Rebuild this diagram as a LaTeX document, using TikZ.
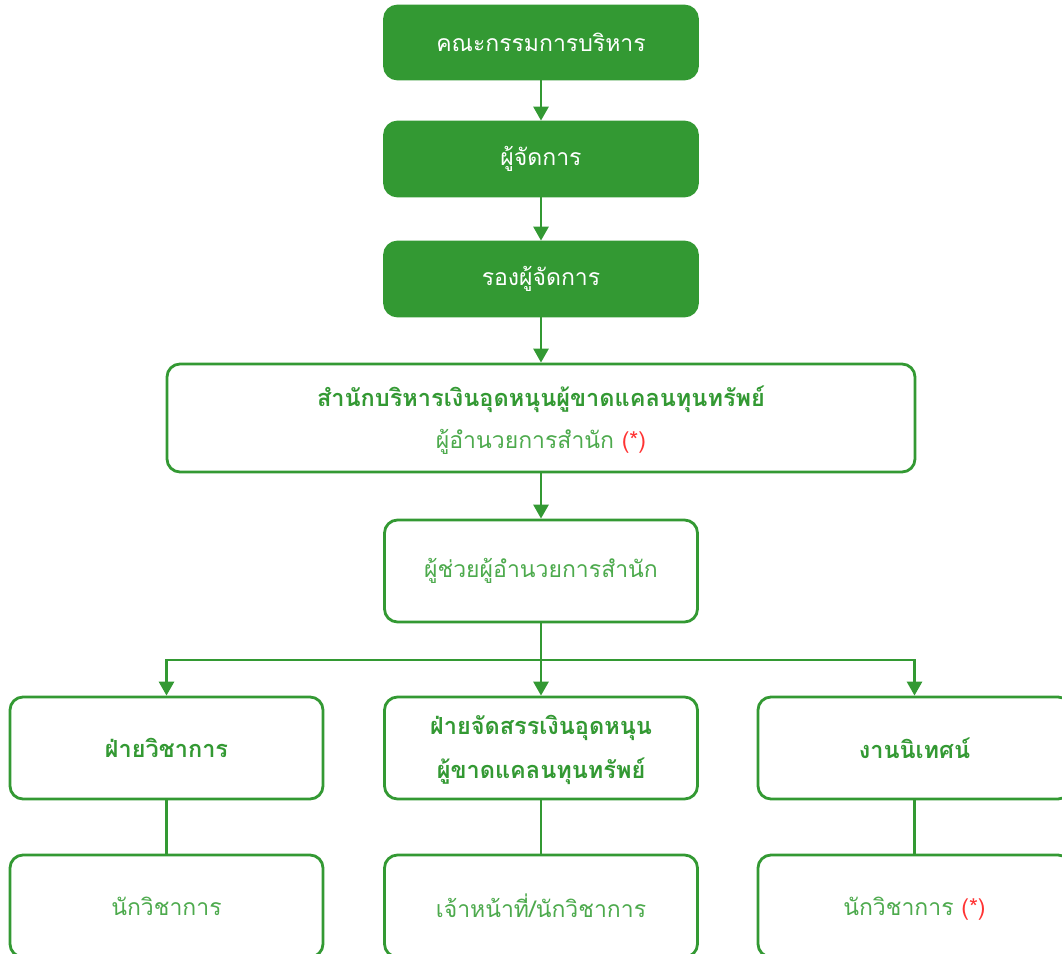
\documentclass[tikz,border=0pt]{standalone}
\usepackage{fontspec}
\newfontfamily\thai[Script=Thai]{Loma}
\usetikzlibrary{arrows.meta}
\definecolor{orgGreen}{HTML}{339933}
\definecolor{lightGreen}{HTML}{4DAA4D}
\definecolor{starRed}{HTML}{FF3333}
\newcommand{\starnote}{\raisebox{0pt}[0pt][0pt]{\textcolor{starRed}{(*)}}}
\tikzset{
  box/.style={draw=orgGreen, line width=2.8pt, rounded corners=13pt, minimum width=313pt, inner sep=0pt, align=center, font=\thai\fontsize{23}{42}\selectfont},
  topbox/.style={box, fill=orgGreen, text=white, minimum height=73pt},
  wbox/.style={box, fill=white, text=lightGreen, minimum height=102pt},
  head/.style={text=orgGreen, font=\thai\bfseries\fontsize{23.5}{42}\selectfont},
  link/.style={draw=orgGreen, line width=2.8pt},
  arrowlink/.style={link, -{Triangle[length=14pt, width=15pt]}}
}
\begin{document}
\begin{tikzpicture}[x=1pt, y=-1pt]
\useasboundingbox (0,0) rectangle (1062,953);
\clip (0,0) rectangle (1062,953);
% management chain
\node[topbox] (board) at (541,42.5) {\raisebox{-3pt}{คณะกรรมการบริหาร}};
\node[topbox, minimum height=74pt] (manager) at (541,159) {\raisebox{-3pt}{ผู้จัดการ}};
\node[topbox, minimum height=74pt] (deputy) at (541,279) {\raisebox{-3pt}{รองผู้จัดการ}};
% office
\node[wbox, minimum width=748pt, minimum height=108pt] (office) at (541,418) {};
\node[head] (officeName) at (541,399) {สำนักบริหารเงินอุดหนุนผู้ขาดแคลนทุนทรัพย์};
\node[font=\thai\fontsize{23}{42}\selectfont, text=lightGreen] (director) at (541,442) {ผู้อำนวยการสำนัก \starnote};
\node[wbox] (assistant) at (541,571) {\raisebox{-3pt}{ผู้ช่วยผู้อำนวยการสำนัก}};
% divisions
\node[wbox, head] (academic) at (166.5,748) {\raisebox{-2pt}{ฝ่ายวิชาการ}};
\node[wbox, head] (funding) at (541,748) {\raisebox{-3pt}{\begin{tabular}{@{}c@{}}ฝ่ายจัดสรรเงินอุดหนุน\\[2pt]ผู้ขาดแคลนทุนทรัพย์\end{tabular}}};
\node[wbox, head] (supervision) at (914.5,748) {\raisebox{-2pt}{งานนิเทศน์}};
% staff
\node[wbox] (staffA) at (166.5,906) {\raisebox{-3pt}{นักวิชาการ}};
\node[wbox] (staffB) at (541,906) {\raisebox{-3pt}{เจ้าหน้าที่/นักวิชาการ}};
\node[wbox] (staffC) at (914.5,906) {\raisebox{-3pt}{นักวิชาการ \starnote}};
% connectors
\draw[arrowlink] (board) -- (manager);
\draw[arrowlink] (manager) -- (deputy);
\draw[arrowlink] (deputy) -- (office);
\draw[arrowlink] (office) -- (assistant);
\draw[arrowlink] (assistant) -- (funding);
\coordinate (bus) at (541,660);
\draw[arrowlink] (bus) -| (academic.north);
\draw[arrowlink] (bus) -| (supervision.north);
\draw[link] (academic) -- (staffA);
\draw[link] (funding) -- (staffB);
\draw[link] (supervision) -- (staffC);
\end{tikzpicture}
\end{document}
